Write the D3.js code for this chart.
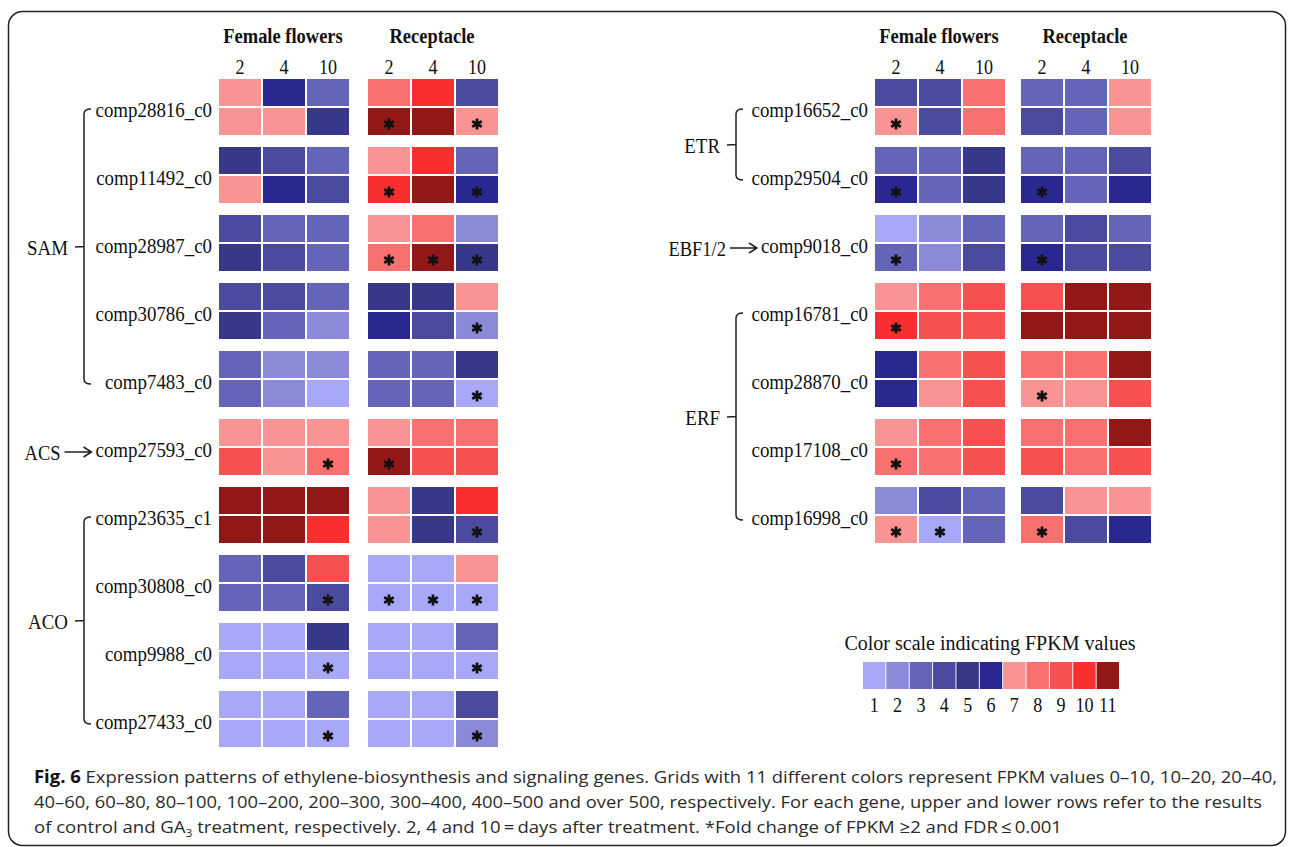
<!DOCTYPE html>
<html lang="en">
<head>
<meta charset="utf-8">
<title>Fig. 6 ethylene gene expression</title>
<style>
body {
  margin: 0;
  background: #fff;
}
svg { display: block; }
.serif {
  font-family: "Liberation Serif", "Times New Roman", serif;
  fill: #111;
}
.header { font-size: 22px; font-weight: bold; }
.day { font-size: 22px; }
.gene { font-size: 21px; }
.family { font-size: 21px; }
.legendTitle { font-size: 20px; }
.legendLabel { font-size: 21px; }
.bracket {
  fill: none;
  stroke: #222;
  stroke-width: 1.5;
}
.caption {
  font-family: "Open Sans", "DejaVu Sans", sans-serif;
  font-size: 17px;
  fill: #2a2a2a;
}
</style>
</head>
<body>
<div id="chart"></div>
<script src="https://d3js.org/d3.v7.min.js"></script>
<script>
var days = ['2', '4', '10'];
var tissues = ['Female flowers', 'Receptacle'];
var legendLevels = [1, 2, 3, 4, 5, 6, 7, 8, 9, 10, 11];
var legendTitle = 'Color scale indicating FPKM values';

// left block
var leftGenes = ['comp28816_c0', 'comp11492_c0', 'comp28987_c0', 'comp30786_c0', 'comp7483_c0',
  'comp27593_c0', 'comp23635_c1', 'comp30808_c0', 'comp9988_c0', 'comp27433_c0'];
var leftFamilies = ['SAM', 'SAM', 'SAM', 'SAM', 'SAM', 'ACS', 'ACO', 'ACO', 'ACO', 'ACO'];
// colour level 1-11, columns: female flowers 2,4,10 then receptacle 2,4,10
var leftControl = [
  [7, 6, 3, 8, 10, 4],
  [5, 4, 3, 7, 10, 3],
  [4, 3, 3, 7, 8, 2],
  [4, 4, 3, 5, 5, 7],
  [3, 2, 2, 3, 3, 5],
  [7, 7, 7, 7, 8, 8],
  [11, 11, 11, 7, 5, 10],
  [3, 4, 9, 1, 1, 7],
  [1, 1, 5, 1, 1, 3],
  [1, 1, 3, 1, 1, 4]
];
var leftGA3 = [
  [7, 7, 5, 11, 11, 7],
  [7, 6, 4, 10, 11, 6],
  [5, 4, 3, 8, 11, 5],
  [5, 3, 2, 6, 4, 2],
  [3, 2, 1, 3, 3, 1],
  [9, 7, 8, 11, 9, 9],
  [11, 11, 10, 7, 5, 4],
  [3, 3, 4, 1, 1, 1],
  [1, 1, 1, 1, 1, 1],
  [1, 1, 1, 1, 1, 2]
];
var leftStars = [
  [0, 0, 0, 1, 0, 1],
  [0, 0, 0, 1, 0, 1],
  [0, 0, 0, 1, 1, 1],
  [0, 0, 0, 0, 0, 1],
  [0, 0, 0, 0, 0, 1],
  [0, 0, 1, 1, 0, 0],
  [0, 0, 0, 0, 0, 1],
  [0, 0, 1, 1, 1, 1],
  [0, 0, 1, 0, 0, 1],
  [0, 0, 1, 0, 0, 1]
];

// right block
var rightGenes = ['comp16652_c0', 'comp29504_c0', 'comp9018_c0', 'comp16781_c0',
  'comp28870_c0', 'comp17108_c0', 'comp16998_c0'];
var rightFamilies = ['ETR', 'ETR', 'EBF1/2', 'ERF', 'ERF', 'ERF', 'ERF'];
var rightControl = [
  [4, 4, 8, 3, 3, 7],
  [3, 3, 5, 3, 3, 4],
  [1, 2, 3, 3, 4, 3],
  [7, 8, 9, 9, 11, 11],
  [6, 8, 9, 8, 8, 11],
  [7, 8, 9, 8, 8, 11],
  [2, 4, 3, 4, 7, 7]
];
var rightGA3 = [
  [7, 4, 8, 4, 3, 7],
  [6, 3, 5, 6, 3, 6],
  [3, 2, 4, 6, 4, 4],
  [10, 9, 9, 11, 11, 11],
  [6, 7, 9, 7, 7, 9],
  [8, 8, 9, 9, 8, 9],
  [7, 1, 3, 8, 4, 6]
];
var rightStars = [
  [1, 0, 0, 0, 0, 0],
  [1, 0, 0, 1, 0, 0],
  [1, 0, 0, 1, 0, 0],
  [1, 0, 0, 0, 0, 0],
  [0, 0, 0, 1, 0, 0],
  [1, 0, 0, 0, 0, 0],
  [1, 1, 0, 1, 0, 0]
];

var captionLines = [
  'Fig. 6| Expression patterns of ethylene-biosynthesis and signaling genes. Grids with 11 different colors represent FPKM values 0\u201310, 10\u201320, 20\u201340,',
  '40\u201360, 60\u201380, 80\u2013100, 100\u2013200, 200\u2013300, 300\u2013400, 400\u2013500 and over 500, respectively. For each gene, upper and lower rows refer to the results',
  'of control and GA|3| treatment, respectively. 2, 4 and 10\u2009=\u2009days after treatment. *Fold change of FPKM \u22652 and FDR\u2009\u2264\u20090.001'
];

var width = 1290, height = 847;
var color = d3.scaleOrdinal()
  .domain(legendLevels)
  .range(['#a8a8f8', '#8a8ad8', '#6464b8', '#4a4a9e', '#38388a', '#282890',
          '#fa9494', '#f87070', '#f75050', '#f92e2e', '#921818']);

var svg = d3.select('#chart')
  .append('svg')
  .attr('width', width)
  .attr('height', height);

// figure frame
svg.append('rect')
  .attr('x', 8.5).attr('y', 11.5)
  .attr('width', 1277).attr('height', 834)
  .attr('rx', 14)
  .attr('fill', 'none')
  .attr('stroke', '#222')
  .attr('stroke-width', 1.5);

function addText(parent, x, y, txt, cls, anchor, sx) {
  return parent.append('text')
    .attr('class', 'serif ' + cls)
    .attr('transform', 'translate(' + x + ',' + y + ') scale(' + sx + ',1)')
    .attr('text-anchor', anchor)
    .text(txt);
}

var asterisk = d3.symbol().type(d3.symbolAsterisk).size(85);

function drawPanel(p) {
  var g = svg.append('g');
  var n = p.genes.length;
  var step = 68;
  var y = d3.scaleBand()
    .domain(p.genes)
    .range([p.top, p.top + step * n - 12])
    .paddingInner(12 / step);
  var rowY = d3.scaleBand()
    .domain(['control', 'GA3'])
    .range([0, y.bandwidth()])
    .paddingInner(2 / 29);
  var xs = tissues.map(function(t, i) {
    return d3.scaleBand()
      .domain(days)
      .range([p.groupX[i], p.groupX[i] + 130])
      .paddingInner(0.045);
  });

  // tissue titles and day labels
  tissues.forEach(function(t, i) {
    var xc = (xs[i].range()[0] + xs[i].range()[1]) / 2 - 1;
    addText(g, xc, 43, t, 'header', 'middle', 0.84);
    days.forEach(function(d) {
      addText(g, xs[i](d) + xs[i].bandwidth() / 2, 74, d, 'day', 'middle', 0.82);
    });
  });

  var cells = [];
  p.genes.forEach(function(gene, gi) {
    [['control', p.control], ['GA3', p.ga3]].forEach(function(r) {
      tissues.forEach(function(t, ti) {
        days.forEach(function(d, di) {
          cells.push({
            gene: gene, row: r[0], tissue: ti, day: d,
            level: r[1][gi][ti * 3 + di],
            star: r[0] === 'GA3' && p.stars[gi][ti * 3 + di] === 1
          });
        });
      });
    });
  });

  g.selectAll('rect.cell')
    .data(cells)
    .enter()
    .append('rect')
    .attr('class', 'cell')
    .attr('x', function(d) { return xs[d.tissue](d.day); })
    .attr('y', function(d) { return y(d.gene) + rowY(d.row); })
    .attr('width', xs[0].bandwidth())
    .attr('height', rowY.bandwidth())
    .attr('fill', function(d) { return color(d.level); });

  g.selectAll('path.star')
    .data(cells.filter(function(d) { return d.star; }))
    .enter()
    .append('path')
    .attr('class', 'star')
    .attr('d', asterisk)
    .attr('fill', 'none')
    .attr('stroke', '#111')
    .attr('stroke-width', 2.7)
    .attr('transform', function(d) {
      var cx = xs[d.tissue](d.day) + xs[d.tissue].bandwidth() / 2;
      var cy = y(d.gene) + rowY(d.row) + rowY.bandwidth() / 2 + 2.5;
      return 'translate(' + cx + ',' + cy + ')';
    });

  // gene labels
  var labelStart = {};
  p.genes.forEach(function(gene) {
    var cy = y(gene) + y.bandwidth() / 2;
    var t = addText(g, p.labelRight, cy + 10, gene, 'gene', 'end', 0.9);
    labelStart[gene] = p.labelRight - t.node().getComputedTextLength() * 0.9;
  });

  // families: brace for several genes, arrow for one
  var fams = d3.groups(p.genes.map(function(gene, i) {
    return { gene: gene, fam: p.families[i] };
  }), function(d) { return d.fam; });

  fams.forEach(function(f) {
    var members = f[1];
    var first = y(members[0].gene) + y.bandwidth() / 2;
    var last = y(members[members.length - 1].gene) + y.bandwidth() / 2;
    if (members.length > 1) {
      var bx = p.braceX, top = first + 2, bot = last + 5, mid = (top + bot) / 2;
      g.append('path')
        .attr('class', 'bracket')
        .attr('d', 'M' + (bx + 7) + ',' + top + ' Q' + bx + ',' + top + ' ' + bx + ',' + (top + 5) +
          ' L' + bx + ',' + (bot - 5) + ' Q' + bx + ',' + bot + ' ' + (bx + 7) + ',' + bot +
          ' M' + (bx - 9) + ',' + (mid + 0.5) + ' L' + bx + ',' + mid);
      addText(g, bx - 16, mid + 8, f[0], 'family', 'end', 0.9);
    } else {
      var ay = first + 5;
      var ax2 = labelStart[members[0].gene] - 4, ax1 = ax2 - 27;
      g.append('path')
        .attr('class', 'bracket')
        .attr('d', 'M' + ax1 + ',' + ay + ' L' + ax2 + ',' + ay +
          ' M' + (ax2 - 8) + ',' + (ay - 5) + ' L' + ax2 + ',' + ay + ' L' + (ax2 - 8) + ',' + (ay + 5));
      addText(g, ax1 - 4, first + 12.5, f[0], 'family', 'end', 0.88);
    }
  });
}

drawPanel({
  genes: leftGenes, families: leftFamilies,
  control: leftControl, ga3: leftGA3, stars: leftStars,
  top: 79, groupX: [219, 368], labelRight: 212, braceX: 84
});
drawPanel({
  genes: rightGenes, families: rightFamilies,
  control: rightControl, ga3: rightGA3, stars: rightStars,
  top: 79, groupX: [875, 1021], labelRight: 868, braceX: 736
});

// colour legend
var legend = svg.append('g');
var lx = d3.scaleBand()
  .domain(legendLevels)
  .range([863, 1119])
  .paddingInner(0.04);
addText(legend, 990, 650, legendTitle, 'legendTitle', 'middle', 1);
legend.selectAll('rect')
  .data(legendLevels)
  .enter()
  .append('rect')
  .attr('x', function(d) { return lx(d); })
  .attr('y', 662)
  .attr('width', lx.bandwidth())
  .attr('height', 27)
  .attr('fill', function(d) { return color(d); });
legendLevels.forEach(function(d) {
  addText(legend, lx(d) + lx.bandwidth() / 2, 712, String(d), 'legendLabel', 'middle', 0.86);
});

// caption
var capStart = 34;
var capEnds = [1277, 1262, 1062];
captionLines.forEach(function(line, i) {
  var t = svg.append('text')
    .attr('class', 'caption')
    .attr('x', capStart)
    .attr('y', 783 + i * 25)
    .attr('textLength', capEnds[i] - capStart)
    .attr('lengthAdjust', 'spacingAndGlyphs');
  var parts = line.split('|');
  if (i === 0) {
    t.append('tspan').attr('font-weight', 'bold').attr('fill', '#111').text(parts[0]);
    t.append('tspan').text(parts[1]);
  } else if (parts.length === 3) {
    t.append('tspan').text(parts[0]);
    t.append('tspan').attr('font-size', '11px').attr('dy', 4).text(parts[1]);
    t.append('tspan').attr('dy', -4).text(parts[2]);
  } else {
    t.text(line);
  }
});
</script>
</body>
</html>
